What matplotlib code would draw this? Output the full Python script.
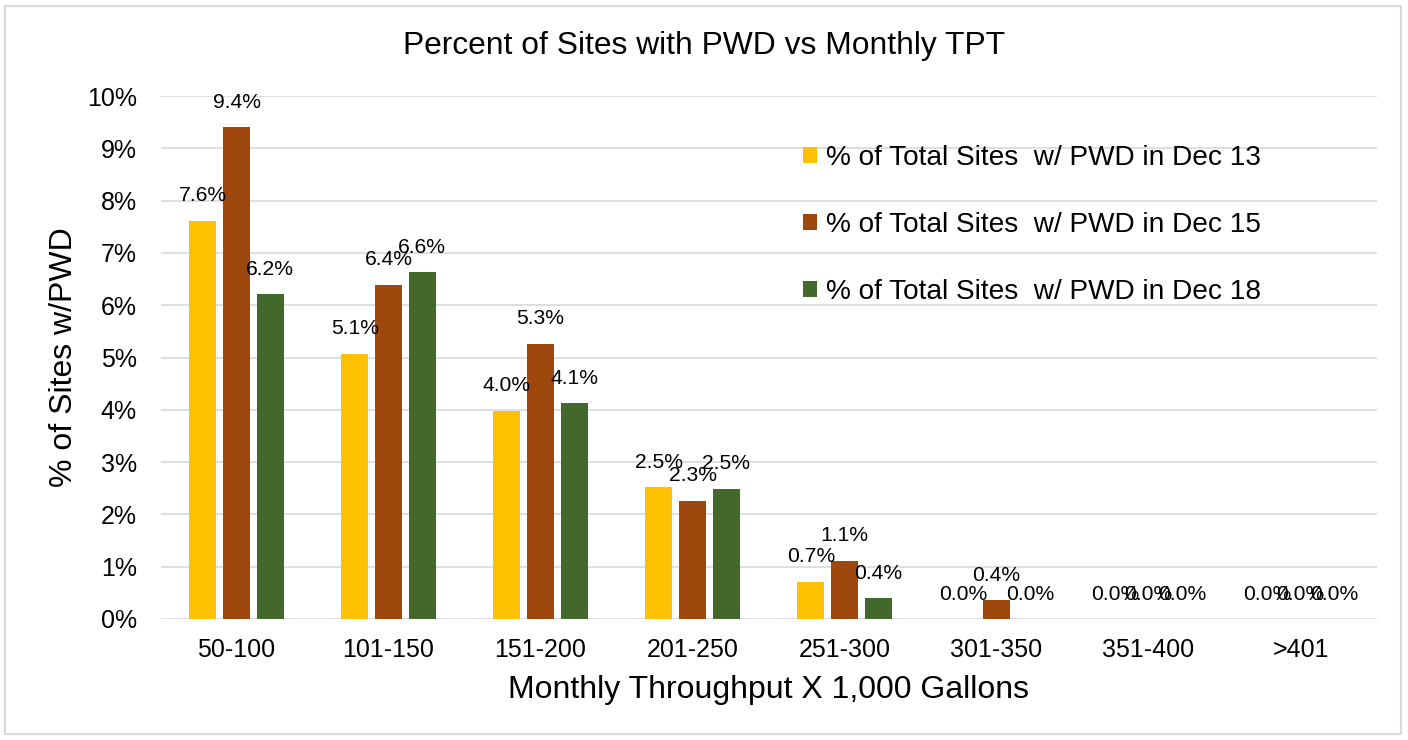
import matplotlib
matplotlib.use("Agg")
import matplotlib.pyplot as plt
import numpy as np
from matplotlib.patches import Patch, Rectangle
from matplotlib.ticker import PercentFormatter

plt.rcParams['font.family'] = ['Liberation Sans', 'DejaVu Sans']

categories = ["50-100", "101-150", "151-200", "201-250", "251-300", "301-350", "351-400", ">401"]
series_names = ["% of Total Sites  w/ PWD in Dec 13",
                "% of Total Sites  w/ PWD in Dec 15",
                "% of Total Sites  w/ PWD in Dec 18"]
dec13 = [0.0761, 0.0507, 0.0398, 0.0252, 0.0071, 0.0, 0.0, 0.0]
dec15 = [0.0940, 0.0639, 0.0526, 0.0226, 0.0111, 0.0036, 0.0, 0.0]
dec18 = [0.0621, 0.0663, 0.0413, 0.0249, 0.0040, 0.0, 0.0, 0.0]
colors = ["#FFC000", "#9E480E", "#43682B"]

fig = plt.figure(figsize=(14.08, 7.40), dpi=100)
ax = fig.add_axes([160.5/1408, 1 - 619/740, 1216/1408, (619-96)/740])

x = np.arange(len(categories))
width = 0.178
pitch = 0.222
for i, (vals, col) in enumerate(zip([dec13, dec15, dec18], colors)):
    pos = x + (i - 1) * pitch
    ax.bar(pos, vals, width=width, color=col, zorder=3)
    for p, v in zip(pos, vals):
        ax.annotate(f"{v*100:.1f}%", (p, v), xytext=(0, 18), textcoords="offset points",
                    ha="center", va="center", fontsize=15.2, color="#000000", zorder=5)

ax.set_xlim(-0.5, len(categories) - 0.5)
ax.set_ylim(0, 0.10)
ax.set_yticks(np.arange(0, 0.1001, 0.01))
ax.yaxis.set_major_formatter(PercentFormatter(1.0, decimals=0))
ax.set_xticks(x)
ax.set_xticklabels(categories)
ax.tick_params(axis="both", length=0, labelsize=18, colors="#000000")
ax.tick_params(axis="y", pad=17)
ax.tick_params(axis="x", pad=14)
ax.grid(axis="y", color="#d9d9d9", linewidth=1.2, zorder=0)
for s in ax.spines.values():
    s.set_visible(False)

ax.set_xlabel("Monthly Throughput X 1,000 Gallons", fontsize=23, labelpad=9)
ax.set_ylabel("% of Sites w/PWD", fontsize=23, labelpad=6)
fig.text(704/1408, 1 - 46/740, "Percent of Sites with PWD vs Monthly TPT",
         ha="center", va="center", fontsize=22.9)

handles = [Patch(facecolor=c, edgecolor="none") for c in colors]
fig.legend(handles, series_names, loc="center left",
           bbox_to_anchor=(803/1408, 1 - 225/740), frameon=False,
           fontsize=20.2, handlelength=0.5, handleheight=0.5, handletextpad=0.32,
           labelspacing=1.47, borderpad=0, borderaxespad=0)

fig.patches.append(Rectangle((5/1408, 6/740), 1396/1408, 728/740, transform=fig.transFigure,
                             fill=False, edgecolor="#d9d9d9", linewidth=1.5))

fig.savefig("out.png", dpi=100)
